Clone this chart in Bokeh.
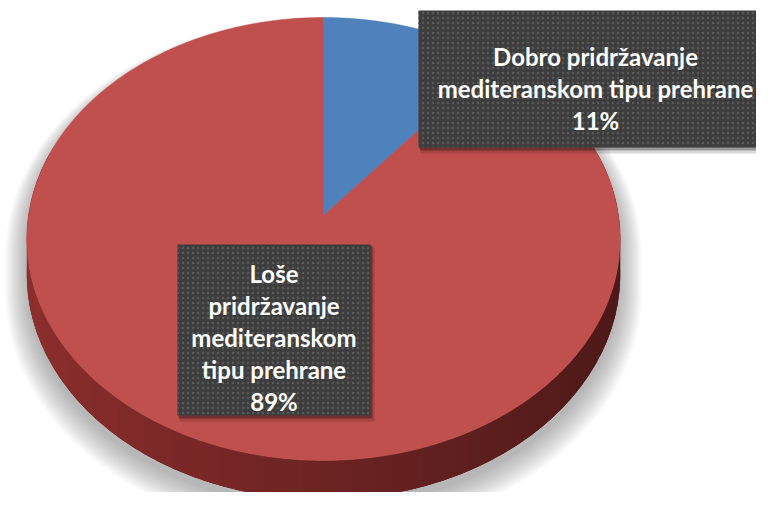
import numpy as np
from bokeh.plotting import figure
from bokeh.models import Range1d
from bokeh.embed import file_html
from bokeh.resources import INLINE
from bokeh.core.properties import value

# ---- data ----
categories = ["Dobro pridržavanje mediteranskom tipu prehrane",
              "Loše pridržavanje mediteranskom tipu prehrane"]
shares = [11, 89]
colors = ["#4F81BD", "#C0504D"]
label_lines_dobro = ["Dobro pridržavanje", "mediteranskom tipu prehrane"]
label_lines_lose = ["Loše", "pridržavanje", "mediteranskom", "tipu prehrane"]

# ---- geometry (screen-like coordinates, y downward) ----
CX, CY = 323.0, 215.0
K = 0.106
A = 219.0
RX = 295.0
DEPTH = 35.0


def proj(theta, drop=0.0):
    u = np.sin(theta)
    v = -np.cos(theta)
    s = 1.0 / (1.0 - K * v)
    return CX + RX * u * s, CY + A * v * s + drop * s


p = figure(width=756, height=492, x_range=Range1d(0, 756), y_range=Range1d(492, 0),
           output_backend="svg", toolbar_location=None, min_border=0,
           x_axis_location=None, y_axis_location=None)
p.grid.visible = False
p.outline_line_color = None
p.background_fill_color = "white"

# ---- outline for shadow ----
th = np.linspace(0, 2 * np.pi, 721)
tx, ty = proj(th)
bx, by = proj(th, DEPTH)
v = -np.cos(th)
ox = np.where(v < K, tx, bx)
oy = np.where(v < K, ty, by)
mx, my = CX, CY + 40
sh_xs, sh_ys, sh_alpha = [], [], []
for i in range(12):
    f = 1.0 + 0.0065 * (11 - i)
    dy = 8 + 0.8 * (11 - i)
    sh_xs.append(list(mx + (ox - mx) * f))
    sh_ys.append(list(my + (oy - my) * f + dy))
    sh_alpha.append(0.04)
p.patches(sh_xs, sh_ys, fill_color="#555555", fill_alpha=sh_alpha, line_color=None)

# ---- slices ----
total = float(sum(shares))
bounds = np.concatenate([[0.0], np.cumsum(shares) / total]) * 2 * np.pi

# side faces: base polygon then shaded overlapping strips (painted left to right)
vis = v >= -0.3
base_x = list(tx[vis]) + list(bx[vis][::-1])
base_y = list(ty[vis]) + list(by[vis][::-1])
p.patch(base_x, base_y, fill_color="#6a2525", line_color=None)

side_xs, side_ys, side_cols = [], [], []
for i, col in enumerate(colors):
    a0, a1 = bounds[i], bounds[i + 1]
    n = max(int((a1 - a0) / (2 * np.pi) * 120), 2)
    ts = np.linspace(a0, a1, n + 1)
    r, g, b = int(col[1:3], 16), int(col[3:5], 16), int(col[5:7], 16)
    for j in range(n):
        t0, t1 = ts[j], ts[j + 1]
        if -np.cos(0.5 * (t0 + t1)) < -0.3:
            continue
        # overlap into the neighbour to hide seams
        tt = np.linspace(t0, min(t1 + 0.6 * (t1 - t0), a1), 6)
        xa, ya = proj(tt)
        xb, yb = proj(tt[::-1], DEPTH)
        uu = np.sin(0.5 * (t0 + t1))
        fac = 0.74 - 0.34 * (uu + 1) / 2
        c = "#%02x%02x%02x" % (int(r * fac), int(g * fac * 0.8), int(b * fac * 0.8))
        side_xs.append(list(xa) + list(xb))
        side_ys.append(list(ya) + list(yb))
        side_cols.append(c)
# draw from back (right, larger theta) to front so overlaps are consistent
order = list(range(len(side_cols)))[::-1]
p.patches([side_xs[o] for o in order], [side_ys[o] for o in order],
          fill_color=[side_cols[o] for o in order], line_color=None)

# top faces
top_xs, top_ys = [], []
for i in range(len(shares)):
    ts = np.linspace(bounds[i], bounds[i + 1], 400)
    x, y = proj(ts)
    top_xs.append([CX] + list(x))
    top_ys.append([CY] + list(y))
p.patches(top_xs, top_ys, fill_color=colors, line_color=colors, line_width=0.5)

# ---- label boxes ----
boxes = [dict(l=418, r=790, t=10, b=147), dict(l=177, r=370, t=244, b=415)]
for bx_ in boxes:
    p.quad(left=bx_["l"] + 2, right=bx_["r"] + 4, top=bx_["t"] + 3, bottom=bx_["b"] + 6,
           fill_color="black", fill_alpha=0.15, line_color=None)
    p.quad(left=bx_["l"] + 1, right=bx_["r"] + 2, top=bx_["t"] + 1, bottom=bx_["b"] + 3,
           fill_color="black", fill_alpha=0.3, line_color=None)
    p.quad(left=bx_["l"], right=bx_["r"], top=bx_["t"], bottom=bx_["b"],
           fill_color="#3d3d3d", line_color=None,
           hatch_pattern="dot", hatch_color="#595959", hatch_scale=5, hatch_weight=1.2)

lines1 = label_lines_dobro + ["%d%%" % shares[0]]
lines2 = label_lines_lose + ["%d%%" % shares[1]]
ys1 = [56 + 32 * i for i in range(len(lines1))]
ys2 = [273 + 32 * i for i in range(len(lines2))]
p.text(x=[595] * len(lines1) + [273.5] * len(lines2), y=ys1 + ys2, text=lines1 + lines2,
       text_font=value("Lato"), text_font_style="bold", text_font_size="24px",
       text_color="white", text_align="center", text_baseline="alphabetic")

open("out.html", "w").write(file_html(p, INLINE))
